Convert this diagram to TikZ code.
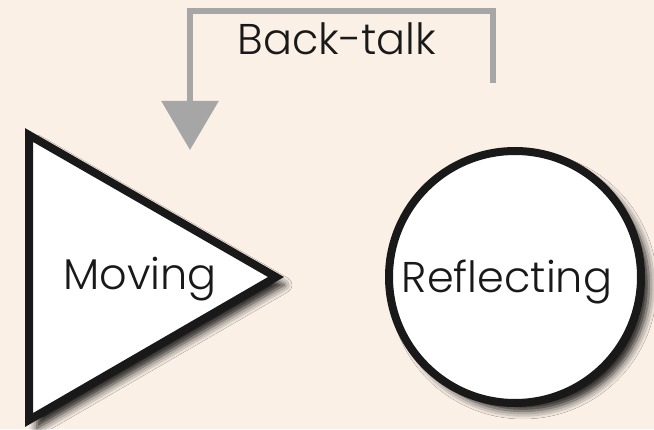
\documentclass[tikz,border=0pt]{standalone}
\usepackage{fontspec}
\setmainfont{Poppins}[UprightFont=* Light]
\usetikzlibrary{arrows.meta,shadows.blur}
\definecolor{paper}{RGB}{250,240,230}
\definecolor{talkgray}{RGB}{166,166,166}
\begin{document}
\begin{tikzpicture}[x=1pt,y=1pt,
    outlined/.style={draw=black!90,line width=8pt,fill=white,
        blur shadow={shadow xshift=8pt,shadow yshift=-8pt,shadow blur radius=8pt,shadow opacity=90}},
    word/.style={font=\fontsize{43}{48}\selectfont,text=black!90,inner sep=0pt,anchor=base}]
        \fill[paper] (0,0) rectangle (654,429);
        \useasboundingbox (0,0) rectangle (654,429);
        \draw[outlined] (29,294) -- (276,152) -- (29,9) -- cycle;
        \node[outlined,circle,minimum size=252pt] (reflect) at (515,152) {};
        \node[word] (moving) at (140,139) {Moving};
        \node[word] (reflecting) at (507,136) {Reflecting};
        \coordinate (from) at (493,346);
        \coordinate (to) at (190,279);
        \draw[talkgray,line width=6pt,-{Triangle[length=49pt,width=56pt]}]
            (from) |- (337,418) -| (to);
        \node[word] (backtalk) at (337,374) {Back-talk};
    \end{tikzpicture}
\end{document}
